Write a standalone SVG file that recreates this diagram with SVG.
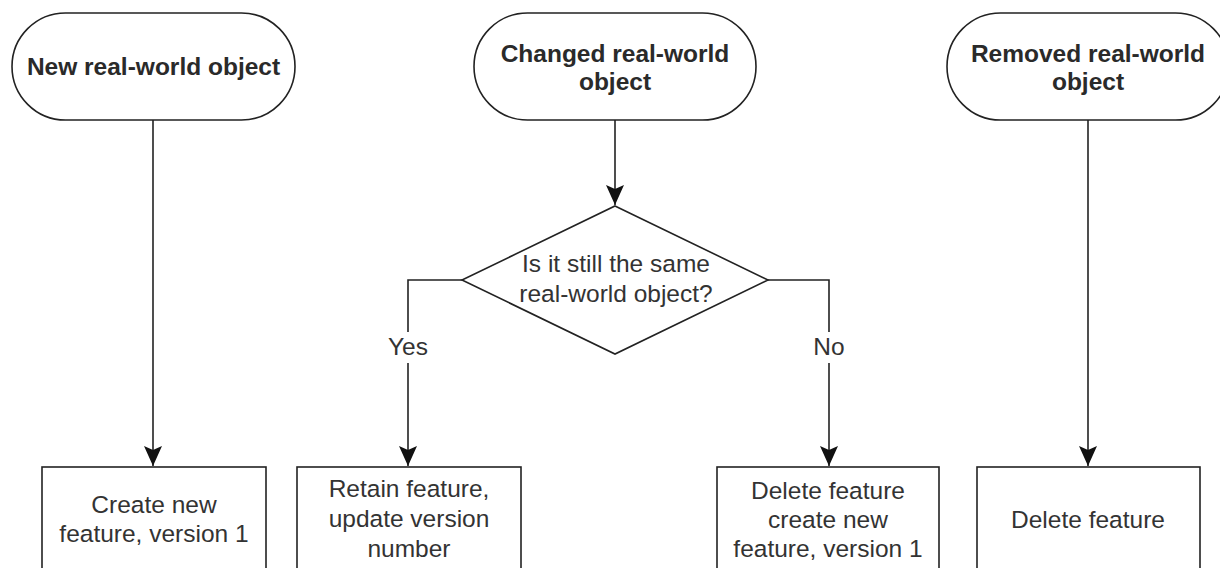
<svg xmlns="http://www.w3.org/2000/svg" width="1220" height="568" viewBox="0 0 1220 568">
  <defs>
    <marker id="arrow" markerUnits="userSpaceOnUse" markerWidth="20" markerHeight="18" viewBox="0 0 20 18" refX="20" refY="9" orient="auto">
      <path d="M0,0 L20,9 L0,18 L4,9 Z" fill="#111"/>
    </marker>
  </defs>
  <style>
    .shape { fill: #fff; stroke: #222; stroke-width: 1.6; }
    .edge { fill: none; stroke: #222; stroke-width: 1.6; }
    .bold { font-family: "Liberation Sans", Arial, sans-serif; font-weight: bold; font-size: 24.5px; fill: #2a2a2a; text-anchor: middle; }
    .reg { font-family: "Liberation Sans", Arial, sans-serif; font-size: 24.5px; fill: #333; text-anchor: middle; }
  </style>
  <rect width="1220" height="568" fill="#fff"/>

  <g id="connectors">
    <path class="edge" d="M153,120 V466" marker-end="url(#arrow)"/>
    <path class="edge" d="M615,120 V205" marker-end="url(#arrow)"/>
    <path class="edge" d="M1088,120 V466" marker-end="url(#arrow)"/>
    <path class="edge" d="M462,280 H408 V332"/>
    <path class="edge" d="M408,363 V466" marker-end="url(#arrow)"/>
    <path class="edge" d="M768,280 H829 V332"/>
    <path class="edge" d="M829,363 V466" marker-end="url(#arrow)"/>
    <text class="reg" x="408" y="355">Yes</text>
    <text class="reg" x="829" y="355">No</text>
  </g>

  <g id="n-new">
    <rect class="shape" x="12" y="13" width="283" height="107" rx="53.5" ry="53.5"/>
    <text class="bold" x="153.5" y="75">New real-world object</text>
  </g>
  <g id="n-changed">
    <rect class="shape" x="474" y="13" width="282" height="107" rx="53.5" ry="53.5"/>
    <text class="bold" x="615" y="62">Changed real-world</text>
    <text class="bold" x="615" y="90">object</text>
  </g>
  <g id="n-removed">
    <rect class="shape" x="947" y="13" width="282" height="107" rx="53.5" ry="53.5"/>
    <text class="bold" x="1088" y="62">Removed real-world</text>
    <text class="bold" x="1088" y="90">object</text>
  </g>
  <g id="n-decision">
    <polygon class="shape" points="615,206 768,280 615,354 462,280"/>
    <text class="reg" x="616" y="272">Is it still the same</text>
    <text class="reg" x="616" y="302">real-world object?</text>
  </g>
  <g id="n-create">
    <rect class="shape" x="42" y="467" width="224" height="140"/>
    <text class="reg" x="154" y="513">Create new</text>
    <text class="reg" x="154" y="542">feature, version 1</text>
  </g>
  <g id="n-retain">
    <rect class="shape" x="297" y="467" width="224" height="140"/>
    <text class="reg" x="409" y="497">Retain feature,</text>
    <text class="reg" x="409" y="527">update version</text>
    <text class="reg" x="409" y="557">number</text>
  </g>
  <g id="n-delete-create">
    <rect class="shape" x="717" y="467" width="222" height="140"/>
    <text class="reg" x="828" y="499">Delete feature</text>
    <text class="reg" x="828" y="528">create new</text>
    <text class="reg" x="828" y="557">feature, version 1</text>
  </g>
  <g id="n-delete">
    <rect class="shape" x="977" y="467" width="223" height="140"/>
    <text class="reg" x="1088" y="528">Delete feature</text>
  </g>
</svg>
